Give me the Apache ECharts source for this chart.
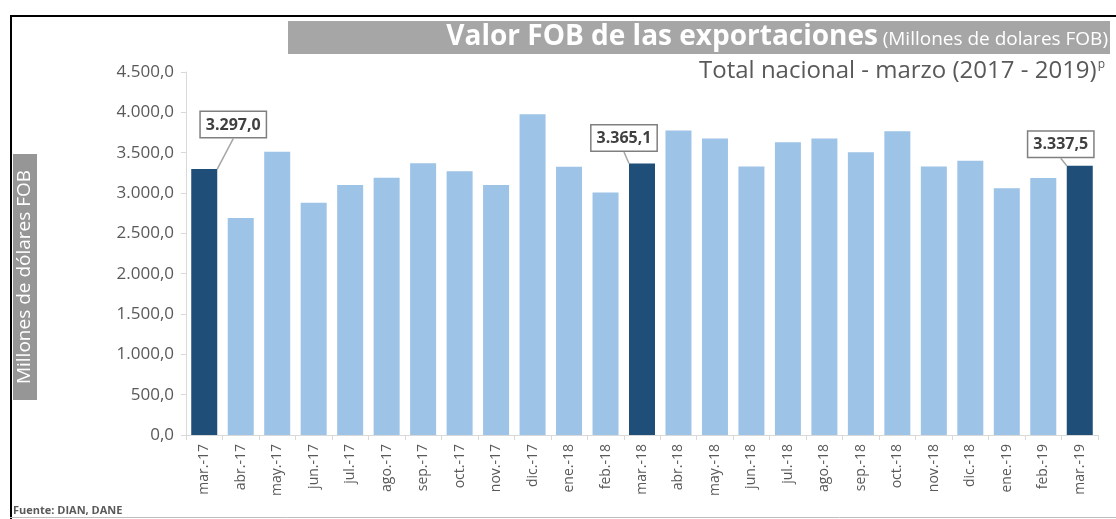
<!DOCTYPE html>
<html>
<head>
<meta charset="utf-8">
<script src="https://cdn.jsdelivr.net/npm/echarts@6/dist/echarts.min.js"></script>
<style>
  html, body { margin: 0; padding: 0; background: #fff; }
  #main { width: 1116px; height: 519px; }
</style>
</head>
<body>
<div id="main"></div>
<script>
// datos
var months = ['mar.-17', 'abr.-17', 'may.-17', 'jun.-17', 'jul.-17', 'ago.-17', 'sep.-17', 'oct.-17',
  'nov.-17', 'dic.-17', 'ene.-18', 'feb.-18', 'mar.-18', 'abr.-18', 'may.-18', 'jun.-18', 'jul.-18',
  'ago.-18', 'sep.-18', 'oct.-18', 'nov.-18', 'dic.-18', 'ene.-19', 'feb.-19', 'mar.-19'];
var values = [3297.0, 2690, 3510, 2880, 3100, 3190, 3370, 3270, 3100, 3975, 3325, 3005, 3365.1,
  3775, 3675, 3330, 3630, 3675, 3505, 3765, 3330, 3400, 3060, 3185, 3337.5];
var highlighted = [0, 12, 24]; // los meses de marzo
var yTicks = [0, 500, 1000, 1500, 2000, 2500, 3000, 3500, 4000, 4500];

var dark = '#1f4e79';
var light = '#9dc3e6';

// formato 3.297,0
function fmt(v) {
  var s = v.toFixed(1).split('.');
  return s[0].replace(/\B(?=(\d{3})+(?!\d))/g, '.') + ',' + s[1];
}

// desplazamiento de las etiquetas
var labelShift = { 0: [29, -27], 12: [-18, -8], 24: [-19, -4] };

var barData = values.map(function (v, i) {
  var isMarch = highlighted.indexOf(i) >= 0;
  return {
    value: v,
    itemStyle: { color: isMarch ? dark : light },
    label: {
      show: isMarch,
      position: 'top',
      distance: 5,
      formatter: function (p) { return fmt(p.value); },
      fontFamily: 'Open Sans',
      fontSize: 16,
      fontWeight: 'bold',
      color: '#404040',
      backgroundColor: '#fff',
      borderColor: '#7f7f7f',
      borderWidth: 1.5,
      padding: [5, 5, 4, 5]
    },
    labelLine: { show: isMarch, lineStyle: { color: '#a6a6a6', width: 1.5 } }
  };
});

var chart = echarts.init(document.getElementById('main'));
chart.setOption({
  animation: false,
  textStyle: { fontFamily: 'Open Sans' },
  grid: { left: 186, right: 18, top: 72, bottom: 84 },
  graphic: [
    { type: 'line', shape: { x1: 10, y1: 16, x2: 1116, y2: 16 }, style: { stroke: '#000', lineWidth: 2 } },
    { type: 'line', shape: { x1: 11, y1: 15, x2: 11, y2: 519 }, style: { stroke: '#000', lineWidth: 2 } },
    { type: 'line', shape: { x1: 10, y1: 517.5, x2: 1116, y2: 517.5 }, style: { stroke: '#bfbfbf', lineWidth: 1 } },
    { type: 'rect', shape: { x: 288, y: 21, width: 822, height: 33 }, style: { fill: '#a6a6a6' } },
    {
      type: 'text', x: 25, y: 277, rotation: Math.PI / 2,
      style: {
        text: 'Millones de dólares FOB', fill: '#fff', fontFamily: 'Open Sans', fontSize: 19,
        lineHeight: 24, align: 'center', verticalAlign: 'middle', backgroundColor: '#969696',
        padding: [0, 16, 0, 16]
      }
    },
    {
      type: 'text', x: 13, y: 511,
      style: {
        text: 'Fuente: DIAN, DANE', fill: '#595959', fontFamily: 'Open Sans', fontSize: 11,
        fontWeight: 'bold', align: 'left', verticalAlign: 'middle'
      }
    }
  ],
  title: [
    {
      text: '{b|Valor FOB de las exportaciones} {s|(Millones de dolares FOB)}',
      right: 8, top: 22, padding: 0,
      textStyle: {
        fontWeight: 'normal',
        rich: {
          b: { fontFamily: 'Open Sans', fontSize: 28, fontWeight: 'bold', color: '#fff', lineHeight: 31 },
          s: { fontFamily: 'Open Sans', fontSize: 19, fontWeight: 'normal', color: '#fff', lineHeight: 31, padding: [5, 0, 0, 0] }
        }
      }
    },
    {
      text: '{t|Total nacional - marzo (2017 - 2019)}{p|p}',
      right: 11, top: 56, padding: 0,
      textStyle: {
        fontWeight: 'normal',
        rich: {
          t: { fontFamily: 'Open Sans', fontSize: 24, fontWeight: 'normal', color: '#595959', lineHeight: 30 },
          p: { fontFamily: 'Open Sans', fontSize: 12, fontWeight: 'normal', color: '#595959', padding: [0, 0, 12, 1] }
        }
      }
    }
  ],
  xAxis: {
    type: 'category',
    data: months,
    axisLine: { lineStyle: { color: '#d9d9d9' } },
    axisTick: { show: true, length: 5, lineStyle: { color: '#d9d9d9' } },
    axisLabel: { rotate: 90, color: '#595959', fontSize: 14, margin: 9, interval: 0 }
  },
  yAxis: {
    type: 'value',
    min: yTicks[0],
    max: yTicks[yTicks.length - 1],
    interval: 500,
    axisLine: { show: true, lineStyle: { color: '#d9d9d9' } },
    axisTick: { show: true, length: 5, lineStyle: { color: '#d9d9d9' } },
    splitLine: { show: false },
    axisLabel: { color: '#595959', fontSize: 17, margin: 12, formatter: function (v) { return fmt(v); } }
  },
  series: [{
    type: 'bar',
    data: barData,
    barWidth: 26,
    labelLayout: function (p) {
      var s = labelShift[p.dataIndex];
      if (!s) return {};
      return { dx: s[0], dy: s[1] };
    }
  }]
});
</script>
</body>
</html>
